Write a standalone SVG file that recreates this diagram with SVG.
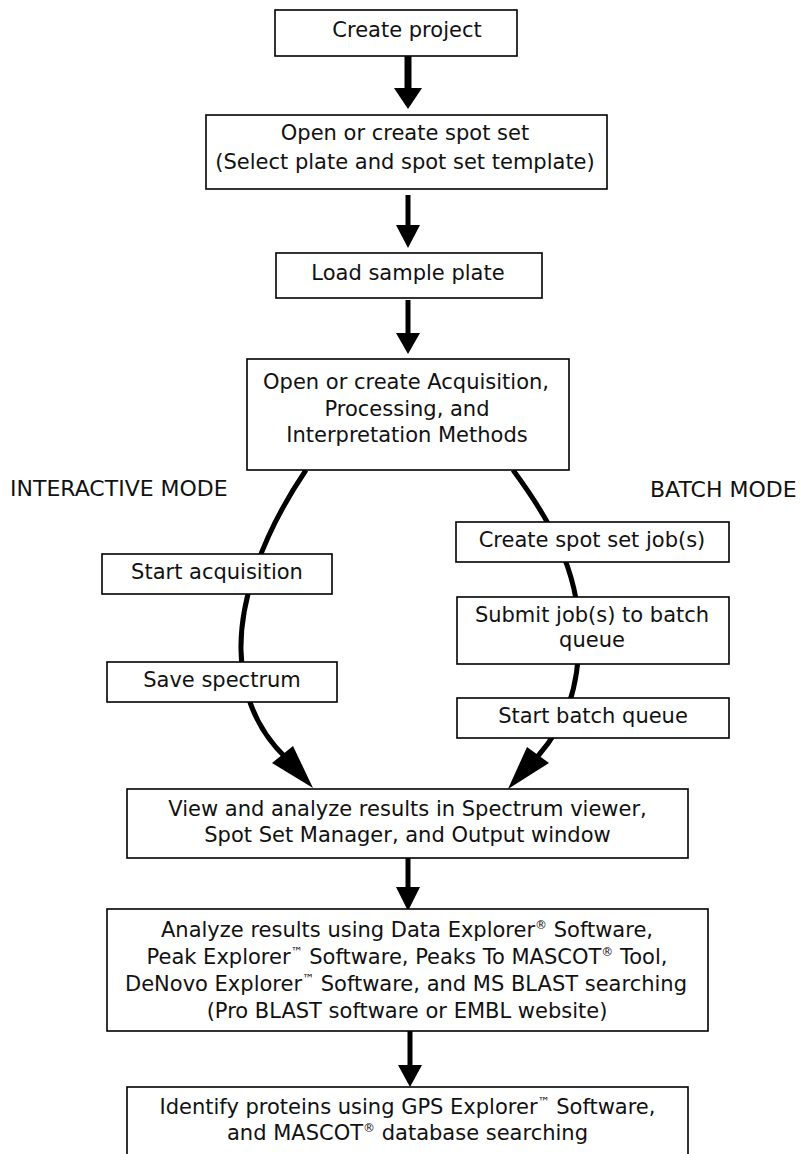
<svg xmlns="http://www.w3.org/2000/svg" width="805" height="1154" viewBox="0 0 805 1154">
<style>
.box{fill:#fff;stroke:#000;stroke-width:1.6}
.t{font-family:"DejaVu Sans","Liberation Sans",sans-serif;font-size:21px;fill:#111;text-anchor:middle}
.m{font-family:"DejaVu Sans","Liberation Sans",sans-serif;font-size:22px;fill:#111}
.sup{font-size:12px}
.shaft{stroke:#000;stroke-width:5;fill:none}
.curve{stroke:#000;stroke-width:5;fill:none}
.head{fill:#000}
</style>
<rect width="805" height="1154" fill="#fff"/>
<g id="connectors">
  <line class="shaft" x1="408" y1="56" x2="408" y2="90" style="stroke-width:7"/>
  <polygon class="head" points="394,88 422,88 408,109"/>
  <line class="shaft" x1="408" y1="195" x2="408" y2="227"/>
  <polygon class="head" points="396,225 420,225 408,248"/>
  <line class="shaft" x1="408" y1="300" x2="408" y2="335"/>
  <polygon class="head" points="396,333 420,333 408,354"/>
  <path class="curve" d="M306 470 C262 535 240 600 241 650 C242 700 262 735 286 758"/>
  <polygon class="head" points="272,763 293,746 313,788"/>
  <path class="curve" d="M513 470 C550 520 578 570 579 630 C580 690 565 725 538 756"/>
  <polygon class="head" points="527,747 549,763 508,789"/>
  <line class="shaft" x1="408" y1="858" x2="408" y2="889"/>
  <polygon class="head" points="396,887 420,887 408,911"/>
  <line class="shaft" x1="410" y1="1031" x2="410" y2="1067"/>
  <polygon class="head" points="398,1065 422,1065 410,1087"/>
</g>
<g id="create-project">
  <rect class="box" x="275" y="10" width="242" height="46"/>
  <text class="t" x="407" y="37">Create project</text>
</g>
<g id="open-spot-set">
  <rect class="box" x="206" y="115" width="401" height="74"/>
  <text class="t" x="405" y="140">Open or create spot set</text>
  <text class="t" x="405" y="169">(Select plate and spot set template)</text>
</g>
<g id="load-plate">
  <rect class="box" x="276" y="253" width="266" height="45"/>
  <text class="t" x="408" y="280">Load sample plate</text>
</g>
<g id="methods">
  <rect class="box" x="247" y="359" width="322" height="111"/>
  <text class="t" x="406" y="389">Open or create Acquisition,</text>
  <text class="t" x="407" y="416">Processing, and</text>
  <text class="t" x="407" y="442">Interpretation Methods</text>
</g>
<g id="interactive-label">
  <text class="m" x="10" y="496">INTERACTIVE MODE</text>
</g>
<g id="batch-label">
  <text class="m" x="650" y="497">BATCH MODE</text>
</g>
<g id="start-acquisition">
  <rect class="box" x="102" y="554" width="230" height="40"/>
  <text class="t" x="217" y="579">Start acquisition</text>
</g>
<g id="save-spectrum">
  <rect class="box" x="107" y="662" width="230" height="40"/>
  <text class="t" x="222" y="687">Save spectrum</text>
</g>
<g id="create-jobs">
  <rect class="box" x="456" y="522" width="273" height="40"/>
  <text class="t" x="592" y="547">Create spot set job(s)</text>
</g>
<g id="submit-jobs">
  <rect class="box" x="457" y="597" width="272" height="67"/>
  <text class="t" x="592" y="622">Submit job(s) to batch</text>
  <text class="t" x="592" y="647">queue</text>
</g>
<g id="start-batch">
  <rect class="box" x="457" y="698" width="272" height="40"/>
  <text class="t" x="593" y="723">Start batch queue</text>
</g>
<g id="view-results">
  <rect class="box" x="127" y="789" width="561" height="69"/>
  <text class="t" x="407.5" y="816">View and analyze results in Spectrum viewer,</text>
  <text class="t" x="407.5" y="842">Spot Set Manager, and Output window</text>
</g>
<g id="analyze-results">
  <rect class="box" x="107" y="909" width="601" height="122"/>
  <text class="t" x="407" y="937">Analyze results using Data Explorer<tspan class="sup" dy="-8">®</tspan><tspan dy="8"> Software,</tspan></text>
  <text class="t" x="407" y="964">Peak Explorer<tspan class="sup" dy="-8">™</tspan><tspan dy="8"> Software, Peaks To MASCOT</tspan><tspan class="sup" dy="-8">®</tspan><tspan dy="8"> Tool,</tspan></text>
  <text class="t" x="406" y="991">DeNovo Explorer<tspan class="sup" dy="-8">™</tspan><tspan dy="8"> Software, and MS BLAST searching</tspan></text>
  <text class="t" x="407" y="1018">(Pro BLAST software or EMBL website)</text>
</g>
<g id="identify-proteins">
  <rect class="box" x="127" y="1087" width="561" height="80"/>
  <text class="t" x="407.5" y="1114">Identify proteins using GPS Explorer<tspan class="sup" dy="-8">™</tspan><tspan dy="8"> Software,</tspan></text>
  <text class="t" x="407.5" y="1140">and MASCOT<tspan class="sup" dy="-8">®</tspan><tspan dy="8"> database searching</tspan></text>
</g>
</svg>
